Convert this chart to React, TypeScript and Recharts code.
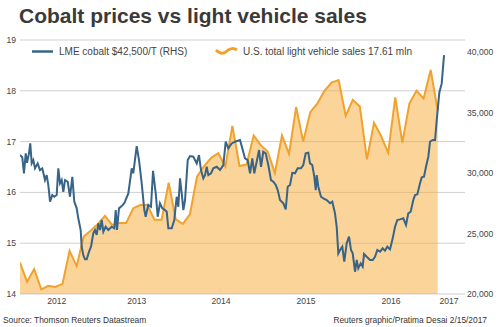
import React from 'react';
import { ComposedChart, Area, Line, XAxis, YAxis, CartesianGrid } from 'recharts';

// Month index 0 = first monthly observation
const salesMonths: number[] = Array.from({ length: 60 }, (_, i) => i);
const salesMln: number[] = [
  14.62, 14.24, 14.49, 14.09, 14.16, 14.14, 14.2, 14.85, 14.55, 15.13,
  15.25, 15.38, 15.54, 15.36, 15.4, 15.4, 15.69, 15.75, 15.75, 15.46,
  15.46, 16.19, 15.47, 15.38, 15.57, 16.31, 16.52, 16.68, 16.77, 16.51,
  17.31, 16.52, 16.55, 17.12, 16.93, 16.8, 16.38, 17.12, 16.76, 17.68,
  17.0, 17.58, 17.75, 18.0, 18.16, 18.21, 17.51, 17.82, 17.69, 16.65,
  17.37, 17.11, 16.78, 17.87, 16.98, 17.75, 18.0, 17.85, 18.41, 17.61,
];

// [month index, LME cobalt $/T]
const cobaltPoints: [number, number][] = [
  [0.0, 31490], [0.32, 31300], [0.56, 29980], [0.81, 31630], [0.99, 30850], [1.27, 31630], [1.45, 32450], [1.65, 30800],
  [1.88, 31070], [2.12, 30390], [2.5, 30800], [2.82, 30250], [3.15, 30390], [3.53, 29420], [3.77, 29830], [4.0, 29010],
  [4.24, 27630], [4.56, 28180], [4.84, 28040], [5.18, 28180], [5.41, 30390], [5.65, 29150], [5.89, 29420], [6.12, 28450],
  [6.36, 29420], [6.74, 29280], [7.06, 28040], [7.39, 29690], [7.67, 27630], [8.01, 27080], [8.23, 26260], [8.57, 25290],
  [8.71, 23910], [8.94, 23220], [9.18, 22870], [9.42, 22870], [9.75, 23500], [10.03, 23910], [10.35, 25020], [10.59, 25290],
  [10.83, 24880], [11.06, 25840], [11.3, 25290], [11.54, 26120], [11.77, 25150], [12.1, 25560], [12.47, 25290], [12.95, 25560],
  [13.32, 25430], [13.52, 26940], [13.7, 25290], [13.98, 27080], [14.36, 27270], [14.73, 27500], [15.07, 27990], [15.3, 28320],
  [15.78, 30390], [16.0, 29980], [16.48, 32230], [16.81, 31070], [17.19, 29150], [17.56, 26940], [17.75, 26390], [18.12, 27360],
  [18.5, 27210], [18.79, 30190], [19.17, 28320], [19.45, 26390], [19.77, 27500], [20.1, 27080], [20.48, 26940], [20.72, 26800],
  [20.95, 25430], [21.43, 25430], [21.79, 26120], [22.13, 28040], [22.36, 27210], [22.6, 29560], [22.84, 28320], [23.07, 26940],
  [23.31, 27770], [23.69, 31070], [24.01, 31400], [24.48, 31350], [24.96, 30800], [25.28, 31490], [25.56, 30250], [25.89, 29560],
  [26.13, 29830], [26.37, 30520], [26.6, 29830], [26.98, 29980], [27.3, 30390], [27.78, 30520], [28.25, 30250], [28.72, 30660],
  [29.05, 32590], [29.42, 32040], [29.9, 32450], [30.37, 32590], [31.07, 32730], [31.4, 32040], [31.78, 31210], [32.16, 31070],
  [32.49, 29980], [32.81, 31210], [33.09, 29980], [33.57, 31350], [33.76, 31900], [34.04, 30520], [34.36, 31760], [34.7, 31630],
  [35.07, 30660], [35.45, 29420], [35.78, 29280], [36.12, 29010], [36.4, 28590], [36.72, 27770], [37.19, 27500], [37.53, 27000],
  [37.81, 28870], [38.14, 29010], [38.46, 30020], [38.84, 29980], [39.22, 30390], [39.69, 30390], [40.01, 30660], [40.35, 31630],
  [40.72, 31680], [40.96, 30800], [41.28, 30660], [41.57, 29690], [41.77, 28590], [41.91, 29830], [42.13, 28870], [42.51, 28040],
  [42.84, 27910], [43.32, 27770], [43.79, 27500], [44.11, 27630], [44.49, 26670], [44.73, 25560], [44.96, 23360], [45.2, 23640],
  [45.52, 23910], [45.8, 22670], [46.14, 24190], [46.47, 24740], [46.75, 23640], [46.99, 23360], [47.32, 21840], [47.56, 22810],
  [47.78, 22120], [48.12, 22540], [48.4, 22260], [48.59, 23310], [48.97, 23080], [49.44, 22810], [49.82, 22810], [50.14, 23080],
  [50.47, 23640], [50.85, 23500], [51.23, 23780], [51.55, 23580], [51.88, 23910], [52.26, 23690], [52.64, 24600], [52.97, 25560],
  [53.29, 26120], [53.67, 26170], [54.14, 26260], [54.52, 25700], [54.84, 26670], [55.18, 26800], [55.55, 27770], [55.79, 28180],
  [56.12, 28240], [56.5, 29150], [56.74, 29640], [57.06, 29690], [57.34, 30520], [57.67, 31350], [57.91, 32590], [58.29, 32730],
  [58.62, 32730], [58.86, 34380], [59.22, 36640], [59.56, 37410], [59.89, 39750],
];

const yearTickPos: number[] = [5.2, 16.5, 28.4, 40.4, 52.4, 60.6];
const yearLabels: string[] = ['2012', '2013', '2014', '2015', '2016', '2017'];
const leftTicks: number[] = [14, 15, 16, 17, 18, 19];
const rightTicks: number[] = [20000, 25000, 30000, 35000, 40000];

const salesData = salesMonths.map((m, i) => ({ m, sales: salesMln[i] }));
const cobaltData = cobaltPoints.map(([m, price]) => ({ m, price }));

const FONT = '"Liberation Sans", Arial, sans-serif';
const TICK_COLOR = '#444';
const ORANGE = '#F0A22E';
const ORANGE_FILL = '#F8A934';
const BLUE = '#376487';

const LeftTick = (props: any) => (
  <text x={16} y={props.y} dy="0.35em" textAnchor="end" fontSize={8.6} fill={TICK_COLOR} fontFamily={FONT}>
    {props.payload.value}
  </text>
);

const RightTick = (props: any) => (
  <text x={467} y={props.y} dy="0.35em" textAnchor="start" fontSize={8.6} fill={TICK_COLOR} fontFamily={FONT}>
    {Number(props.payload.value).toLocaleString('en-US')}
  </text>
);

const XTick = (props: any) => {
  const idx = yearTickPos.indexOf(props.payload.value);
  return (
    <text x={props.x} y={304} textAnchor="middle" fontSize={8.6} fill={TICK_COLOR} fontFamily={FONT}>
      {idx >= 0 ? yearLabels[idx] : ''}
    </text>
  );
};

export default function App() {
  return (
    <div style={{ position: 'absolute', left: 0, top: 0, width: 500, height: 327, background: '#fff', fontFamily: FONT }}>
      <ComposedChart width={500} height={327} margin={{ top: 40, right: 0, bottom: 0, left: 0 }}>
        <CartesianGrid yAxisId="left" horizontal vertical={false} stroke="#cfcfcf" strokeWidth={1} />
        <XAxis
          dataKey="m"
          type="number"
          domain={[0, 62.85]}
          ticks={yearTickPos}
          interval={0}
          height={33}
          axisLine={false}
          tickLine={false}
          tick={<XTick />}
          allowDataOverflow
        />
        <YAxis
          yAxisId="left"
          orientation="left"
          width={20}
          domain={[14, 19]}
          ticks={leftTicks}
          interval={0}
          axisLine={false}
          tickLine={false}
          tick={<LeftTick />}
          allowDataOverflow
        />
        <YAxis
          yAxisId="right"
          orientation="right"
          width={35}
          domain={[20000, 41000]}
          ticks={rightTicks}
          interval={0}
          axisLine={false}
          tickLine={false}
          tick={<RightTick />}
          allowDataOverflow
        />
        <Area
          yAxisId="left"
          data={salesData}
          dataKey="sales"
          type="linear"
          stroke={ORANGE}
          strokeWidth={2}
          fill={ORANGE_FILL}
          fillOpacity={0.5}
          isAnimationActive={false}
          dot={false}
          activeDot={false}
        />
        <Line
          yAxisId="right"
          data={cobaltData}
          dataKey="price"
          type="linear"
          stroke={BLUE}
          strokeWidth={2}
          dot={false}
          activeDot={false}
          isAnimationActive={false}
        />
      </ComposedChart>
      <svg width={500} height={327} style={{ position: 'absolute', left: 0, top: 0, pointerEvents: 'none' }}>
        <text x={19} y={23} fontSize={21} fontWeight="bold" fill="#3a3a3a" fontFamily={FONT}>
          Cobalt prices vs light vehicle sales
        </text>
        <line x1={32} y1={51.5} x2={53} y2={51.5} stroke={BLUE} strokeWidth={2.5} />
        <text x={59} y={55} fontSize={10} fill="#444" fontFamily={FONT}>
          LME cobalt $42,500/T (RHS)
        </text>
        <path d="M216 50 C 220 54, 224 54, 227 51 S 234 48, 237 50" fill="none" stroke={ORANGE} strokeWidth={3} />
        <text x={243} y={55} fontSize={10} fill="#444" fontFamily={FONT}>
          U.S. total light vehicle sales 17.61 mln
        </text>
        <text x={3} y={323} fontSize={8.4} fill="#333" fontFamily={FONT}>
          Source: Thomson Reuters Datastream
        </text>
        <text x={487} y={323} textAnchor="end" fontSize={8.4} fill="#333" fontFamily={FONT}>
          Reuters graphic/Pratima Desai 2/15/2017
        </text>
      </svg>
    </div>
  );
}
